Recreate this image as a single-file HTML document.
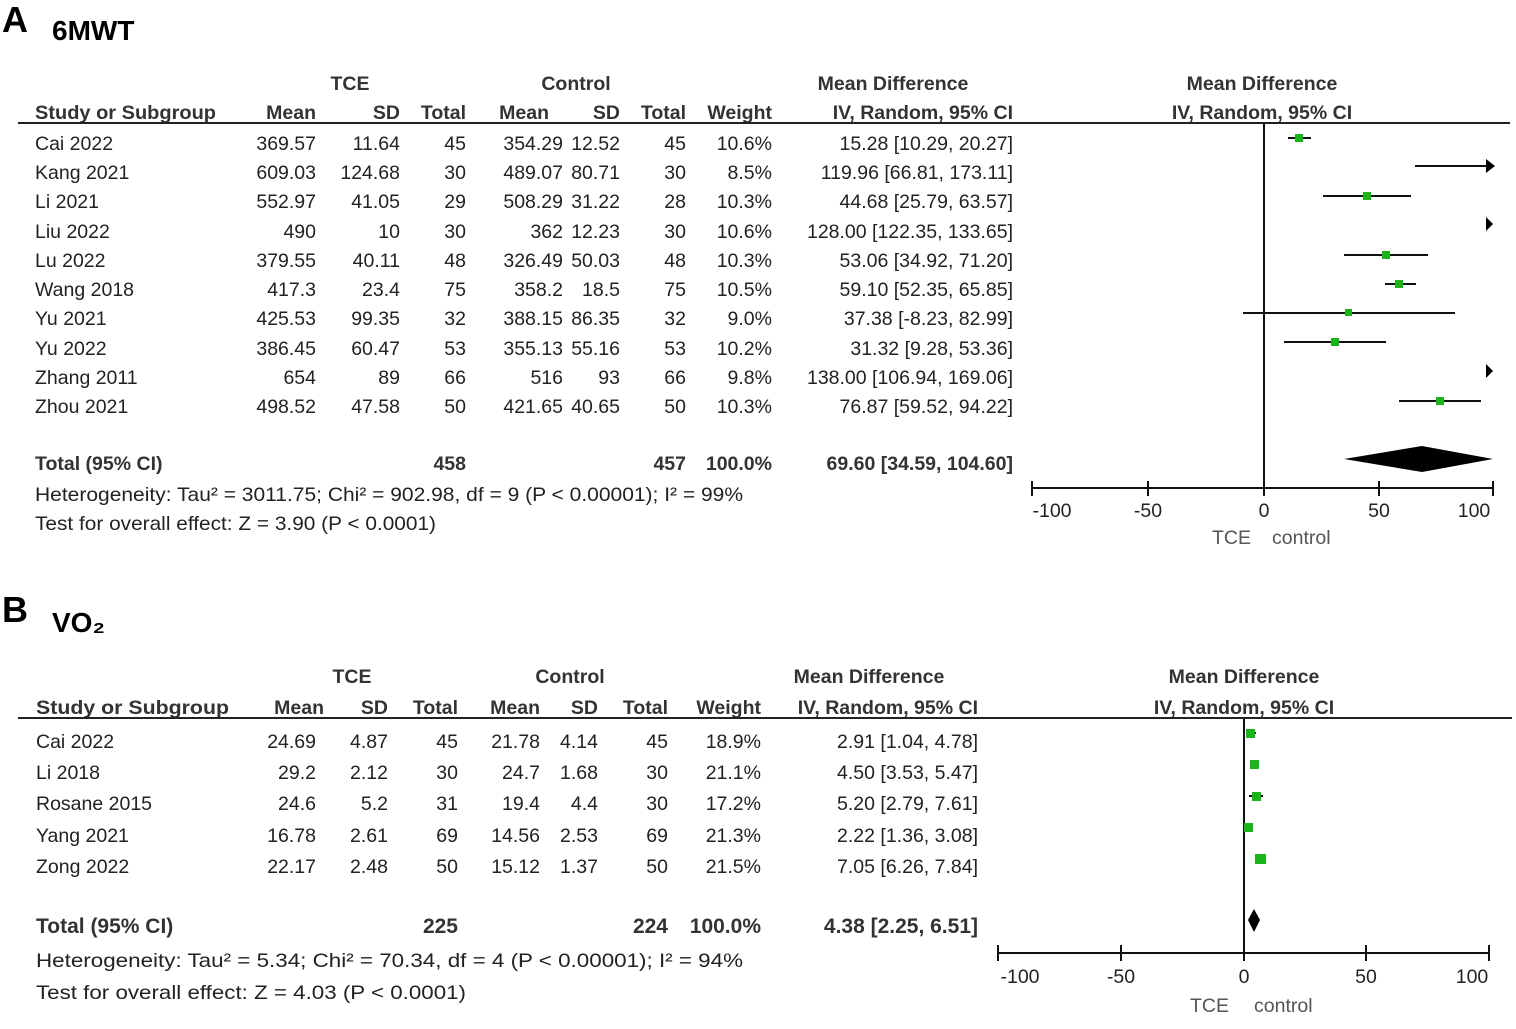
<!DOCTYPE html>
<html><head><meta charset="utf-8"><style>
html,body{margin:0;padding:0;background:#fff;}
svg{display:block;}
text{font-family:"Liberation Sans",Arial,sans-serif;fill:#222;font-size:19.5px;}
.h{font-weight:bold;fill:#333;font-size:19.5px;}
.e{text-anchor:end;}
.m{text-anchor:middle;}
.big{font-weight:bold;fill:#000;}
</style></head><body>
<svg width="1516" height="1029" viewBox="0 0 1516 1029">
<text x="2" y="32" class="big" style="font-size:36px">A</text>
<text x="52" y="40" class="big" style="font-size:28px">6MWT</text>
<text x="2" y="622" class="big" style="font-size:36px">B</text>
<text x="52" y="632" class="big" style="font-size:28px">VO₂</text>

<g>
<text x="350" y="90" class="h m">TCE</text>
<text x="576" y="90" class="h m">Control</text>
<text x="893" y="90" class="h m">Mean Difference</text>
<text x="1262" y="90" class="h m">Mean Difference</text>
<text x="35" y="119" class="h" textLength="181" lengthAdjust="spacingAndGlyphs">Study or Subgroup</text>
<text x="316" y="119" class="h e">Mean</text>
<text x="400" y="119" class="h e">SD</text>
<text x="466" y="119" class="h e">Total</text>
<text x="549" y="119" class="h e">Mean</text>
<text x="620" y="119" class="h e">SD</text>
<text x="686" y="119" class="h e">Total</text>
<text x="772" y="119" class="h e">Weight</text>
<text x="1013" y="119" class="h e">IV, Random, 95% CI</text>
<text x="1262" y="119" class="h m">IV, Random, 95% CI</text>
<line x1="18" y1="123" x2="1510" y2="123" stroke="#222" stroke-width="2"/>
</g>
<g>
<text x="35" y="150">Cai 2022</text><text x="316" y="150" class="e">369.57</text><text x="400" y="150" class="e">11.64</text><text x="466" y="150" class="e">45</text><text x="563" y="150" class="e">354.29</text><text x="620" y="150" class="e">12.52</text><text x="686" y="150" class="e">45</text><text x="772" y="150" class="e">10.6%</text><text x="1013" y="150" class="e">15.28 [10.29, 20.27]</text>
<text x="35" y="179">Kang 2021</text><text x="316" y="179" class="e">609.03</text><text x="400" y="179" class="e">124.68</text><text x="466" y="179" class="e">30</text><text x="563" y="179" class="e">489.07</text><text x="620" y="179" class="e">80.71</text><text x="686" y="179" class="e">30</text><text x="772" y="179" class="e">8.5%</text><text x="1013" y="179" class="e">119.96 [66.81, 173.11]</text>
<text x="35" y="208">Li 2021</text><text x="316" y="208" class="e">552.97</text><text x="400" y="208" class="e">41.05</text><text x="466" y="208" class="e">29</text><text x="563" y="208" class="e">508.29</text><text x="620" y="208" class="e">31.22</text><text x="686" y="208" class="e">28</text><text x="772" y="208" class="e">10.3%</text><text x="1013" y="208" class="e">44.68 [25.79, 63.57]</text>
<text x="35" y="238">Liu 2022</text><text x="316" y="238" class="e">490</text><text x="400" y="238" class="e">10</text><text x="466" y="238" class="e">30</text><text x="563" y="238" class="e">362</text><text x="620" y="238" class="e">12.23</text><text x="686" y="238" class="e">30</text><text x="772" y="238" class="e">10.6%</text><text x="1013" y="238" class="e">128.00 [122.35, 133.65]</text>
<text x="35" y="267">Lu 2022</text><text x="316" y="267" class="e">379.55</text><text x="400" y="267" class="e">40.11</text><text x="466" y="267" class="e">48</text><text x="563" y="267" class="e">326.49</text><text x="620" y="267" class="e">50.03</text><text x="686" y="267" class="e">48</text><text x="772" y="267" class="e">10.3%</text><text x="1013" y="267" class="e">53.06 [34.92, 71.20]</text>
<text x="35" y="296">Wang 2018</text><text x="316" y="296" class="e">417.3</text><text x="400" y="296" class="e">23.4</text><text x="466" y="296" class="e">75</text><text x="563" y="296" class="e">358.2</text><text x="620" y="296" class="e">18.5</text><text x="686" y="296" class="e">75</text><text x="772" y="296" class="e">10.5%</text><text x="1013" y="296" class="e">59.10 [52.35, 65.85]</text>
<text x="35" y="325">Yu 2021</text><text x="316" y="325" class="e">425.53</text><text x="400" y="325" class="e">99.35</text><text x="466" y="325" class="e">32</text><text x="563" y="325" class="e">388.15</text><text x="620" y="325" class="e">86.35</text><text x="686" y="325" class="e">32</text><text x="772" y="325" class="e">9.0%</text><text x="1013" y="325" class="e">37.38 [-8.23, 82.99]</text>
<text x="35" y="355">Yu 2022</text><text x="316" y="355" class="e">386.45</text><text x="400" y="355" class="e">60.47</text><text x="466" y="355" class="e">53</text><text x="563" y="355" class="e">355.13</text><text x="620" y="355" class="e">55.16</text><text x="686" y="355" class="e">53</text><text x="772" y="355" class="e">10.2%</text><text x="1013" y="355" class="e">31.32 [9.28, 53.36]</text>
<text x="35" y="384">Zhang 2011</text><text x="316" y="384" class="e">654</text><text x="400" y="384" class="e">89</text><text x="466" y="384" class="e">66</text><text x="563" y="384" class="e">516</text><text x="620" y="384" class="e">93</text><text x="686" y="384" class="e">66</text><text x="772" y="384" class="e">9.8%</text><text x="1013" y="384" class="e">138.00 [106.94, 169.06]</text>
<text x="35" y="413">Zhou 2021</text><text x="316" y="413" class="e">498.52</text><text x="400" y="413" class="e">47.58</text><text x="466" y="413" class="e">50</text><text x="563" y="413" class="e">421.65</text><text x="620" y="413" class="e">40.65</text><text x="686" y="413" class="e">50</text><text x="772" y="413" class="e">10.3%</text><text x="1013" y="413" class="e">76.87 [59.52, 94.22]</text>
<text x="35" y="470" class="h">Total (95% CI)</text><text x="466" y="470" class="h e">458</text><text x="686" y="470" class="h e">457</text><text x="772" y="470" class="h e">100.0%</text><text x="1013" y="470" class="h e">69.60 [34.59, 104.60]</text>
<text x="35" y="501" textLength="708" lengthAdjust="spacingAndGlyphs">Heterogeneity: Tau² = 3011.75; Chi² = 902.98, df = 9 (P &lt; 0.00001); I² = 99%</text>
<text x="35" y="530" textLength="401" lengthAdjust="spacingAndGlyphs">Test for overall effect: Z = 3.90 (P &lt; 0.0001)</text>
</g>
<g stroke="#111" stroke-width="2">
<line x1="1264" y1="123" x2="1264" y2="488"/>
<line x1="1032" y1="488" x2="1493" y2="488"/>
<line x1="1032" y1="481" x2="1032" y2="496"/><line x1="1148" y1="481" x2="1148" y2="496"/><line x1="1264" y1="481" x2="1264" y2="496"/><line x1="1379" y1="481" x2="1379" y2="496"/><line x1="1493" y1="481" x2="1493" y2="496"/>
<line x1="1288" y1="138" x2="1311" y2="138"/>
<line x1="1415" y1="166" x2="1488" y2="166"/>
<line x1="1323" y1="196" x2="1411" y2="196"/>
<line x1="1344" y1="255" x2="1428" y2="255"/>
<line x1="1385" y1="284" x2="1416" y2="284"/>
<line x1="1243" y1="313" x2="1455" y2="313"/>
<line x1="1284" y1="342" x2="1386" y2="342"/>
<line x1="1399" y1="401" x2="1481" y2="401"/>
</g>
<g fill="#000">
<polygon points="1486,159 1495,166 1486,173"/>
<polygon points="1486,217 1493,224 1486,231"/>
<polygon points="1486,364 1493,371 1486,378"/>
<polygon points="1344,459 1422,446 1493,459 1422,472"/>
</g>
<g fill="#1ab31a">
<rect x="1295" y="134" width="8" height="8"/>
<rect x="1363" y="192" width="8" height="8"/>
<rect x="1382" y="251" width="8" height="8"/>
<rect x="1395" y="280" width="8" height="8"/>
<rect x="1345" y="309" width="7" height="7"/>
<rect x="1331" y="338" width="8" height="8"/>
<rect x="1436" y="397" width="8" height="8"/>
</g>
<g>
<text x="1052" y="517" class="m">-100</text><text x="1148" y="517" class="m">-50</text><text x="1264" y="517" class="m">0</text><text x="1379" y="517" class="m">50</text><text x="1474" y="517" class="m">100</text>
<text x="1212" y="544" style="fill:#555">TCE</text><text x="1272" y="544" style="fill:#555">control</text>
</g>

<g>
<text x="352" y="683" class="h m">TCE</text>
<text x="570" y="683" class="h m">Control</text>
<text x="869" y="683" class="h m">Mean Difference</text>
<text x="1244" y="683" class="h m">Mean Difference</text>
<text x="36" y="714" class="h" textLength="193" lengthAdjust="spacingAndGlyphs">Study or Subgroup</text>
<text x="324" y="714" class="h e">Mean</text>
<text x="388" y="714" class="h e">SD</text>
<text x="458" y="714" class="h e">Total</text>
<text x="540" y="714" class="h e">Mean</text>
<text x="598" y="714" class="h e">SD</text>
<text x="668" y="714" class="h e">Total</text>
<text x="761" y="714" class="h e">Weight</text>
<text x="978" y="714" class="h e">IV, Random, 95% CI</text>
<text x="1244" y="714" class="h m">IV, Random, 95% CI</text>
<line x1="18" y1="718" x2="1512" y2="718" stroke="#222" stroke-width="2"/>
</g>
<g style="font-size:21px">
<text x="36" y="748">Cai 2022</text><text x="316" y="748" class="e">24.69</text><text x="388" y="748" class="e">4.87</text><text x="458" y="748" class="e">45</text><text x="540" y="748" class="e">21.78</text><text x="598" y="748" class="e">4.14</text><text x="668" y="748" class="e">45</text><text x="761" y="748" class="e">18.9%</text><text x="978" y="748" class="e">2.91 [1.04, 4.78]</text>
<text x="36" y="779">Li 2018</text><text x="316" y="779" class="e">29.2</text><text x="388" y="779" class="e">2.12</text><text x="458" y="779" class="e">30</text><text x="540" y="779" class="e">24.7</text><text x="598" y="779" class="e">1.68</text><text x="668" y="779" class="e">30</text><text x="761" y="779" class="e">21.1%</text><text x="978" y="779" class="e">4.50 [3.53, 5.47]</text>
<text x="36" y="810">Rosane 2015</text><text x="316" y="810" class="e">24.6</text><text x="388" y="810" class="e">5.2</text><text x="458" y="810" class="e">31</text><text x="540" y="810" class="e">19.4</text><text x="598" y="810" class="e">4.4</text><text x="668" y="810" class="e">30</text><text x="761" y="810" class="e">17.2%</text><text x="978" y="810" class="e">5.20 [2.79, 7.61]</text>
<text x="36" y="842">Yang 2021</text><text x="316" y="842" class="e">16.78</text><text x="388" y="842" class="e">2.61</text><text x="458" y="842" class="e">69</text><text x="540" y="842" class="e">14.56</text><text x="598" y="842" class="e">2.53</text><text x="668" y="842" class="e">69</text><text x="761" y="842" class="e">21.3%</text><text x="978" y="842" class="e">2.22 [1.36, 3.08]</text>
<text x="36" y="873">Zong 2022</text><text x="316" y="873" class="e">22.17</text><text x="388" y="873" class="e">2.48</text><text x="458" y="873" class="e">50</text><text x="540" y="873" class="e">15.12</text><text x="598" y="873" class="e">1.37</text><text x="668" y="873" class="e">50</text><text x="761" y="873" class="e">21.5%</text><text x="978" y="873" class="e">7.05 [6.26, 7.84]</text>
<text x="36" y="933" class="h" style="font-size:21px">Total (95% CI)</text><text x="458" y="933" class="h e" style="font-size:21px">225</text><text x="668" y="933" class="h e" style="font-size:21px">224</text><text x="761" y="933" class="h e" style="font-size:21px">100.0%</text><text x="978" y="933" class="h e" style="font-size:21px">4.38 [2.25, 6.51]</text>
<text x="36" y="967" textLength="707" lengthAdjust="spacingAndGlyphs">Heterogeneity: Tau² = 5.34; Chi² = 70.34, df = 4 (P &lt; 0.00001); I² = 94%</text>
<text x="36" y="999" textLength="430" lengthAdjust="spacingAndGlyphs">Test for overall effect: Z = 4.03 (P &lt; 0.0001)</text>
</g>
<g stroke="#111" stroke-width="2">
<line x1="1244" y1="718" x2="1244" y2="953"/>
<line x1="998" y1="953" x2="1489" y2="953"/>
<line x1="998" y1="945" x2="998" y2="961"/><line x1="1121" y1="945" x2="1121" y2="961"/><line x1="1244" y1="945" x2="1244" y2="961"/><line x1="1366" y1="945" x2="1366" y2="961"/><line x1="1489" y1="945" x2="1489" y2="961"/>
<line x1="1247" y1="733" x2="1256" y2="733"/>
<line x1="1249" y1="796" x2="1263" y2="796"/>
</g>
<g fill="#1ab31a">
<rect x="1246" y="729" width="9" height="9"/>
<rect x="1250" y="760" width="9" height="9"/>
<rect x="1252" y="792" width="9" height="9"/>
<rect x="1244" y="823" width="9" height="9"/>
<rect x="1255" y="854" width="11" height="10"/>
</g>
<polygon points="1248,920 1254,909 1260,920 1254,932" fill="#000"/>
<g style="font-size:21px">
<text x="1020" y="983" class="m">-100</text><text x="1121" y="983" class="m">-50</text><text x="1244" y="983" class="m">0</text><text x="1366" y="983" class="m">50</text><text x="1472" y="983" class="m">100</text>
<text x="1190" y="1012" style="fill:#555">TCE</text><text x="1254" y="1012" style="fill:#555">control</text>
</g>
</svg>
</body></html>
